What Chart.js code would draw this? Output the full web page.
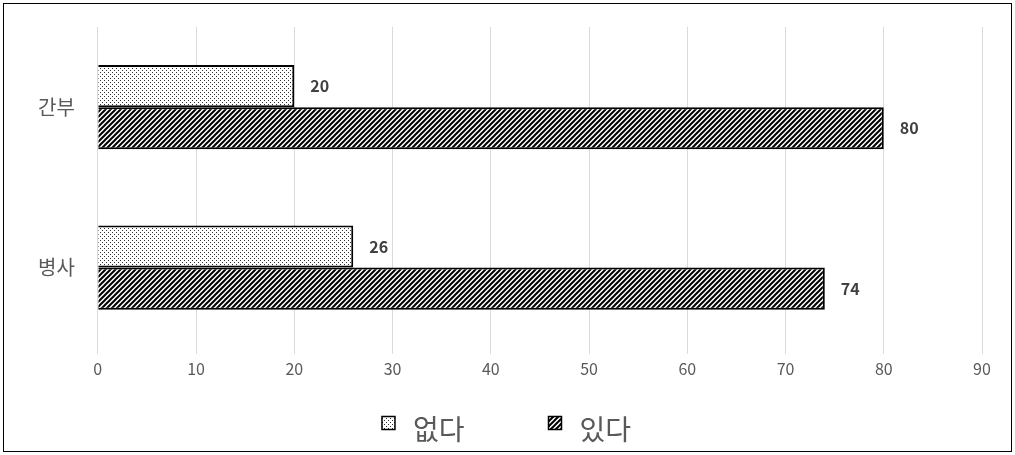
<!DOCTYPE html>
<html>
<head>
<meta charset="utf-8">
<script src="https://cdn.jsdelivr.net/npm/chart.js@4.4.0/dist/chart.umd.min.js"></script>
<style>
    html, body { margin: 0; padding: 0; background: #fff; }
    .frame {
        position: absolute; left: 3px; top: 3px;
        width: 1009px; height: 449px;
        border: 1px solid #000;
        box-sizing: border-box;
    }
    #chart { position: absolute; left: 0; top: 0; }
</style>
</head>
<body>
<div class="frame"></div>
<canvas id="chart" width="1015" height="455"></canvas>
<script>
// 데이터
const categories = ['간부', '병사'];
const seriesNames = ['없다', '있다'];
const noValues = [20, 26];
const yesValues = [80, 74];
const xTicks = [0, 10, 20, 30, 40, 50, 60, 70, 80, 90];

const FONT = "'Malgun Gothic', 'Noto Sans CJK KR', sans-serif";

// 점무늬 패턴
function makeDots() {
    const c = document.createElement('canvas');
    c.width = 4; c.height = 4;
    const g = c.getContext('2d');
    g.fillStyle = '#fff';
    g.fillRect(0, 0, 4, 4);
    g.fillStyle = '#333';
    g.fillRect(0, 0, 1, 1);
    g.fillRect(2, 2, 1, 1);
    return g.createPattern(c, 'repeat');
}

// 빗금 패턴
function makeHatch() {
    const s = 5;
    const c = document.createElement('canvas');
    c.width = s; c.height = s;
    const g = c.getContext('2d');
    g.fillStyle = '#fff';
    g.fillRect(0, 0, s, s);
    g.strokeStyle = '#000';
    g.lineWidth = 2;
    g.beginPath();
    g.moveTo(-1, s + 1); g.lineTo(s + 1, -1);
    g.moveTo(-1, 1); g.lineTo(1, -1);
    g.moveTo(s - 1, s + 1); g.lineTo(s + 1, s - 1);
    g.stroke();
    return g.createPattern(c, 'repeat');
}

const dotFill = makeDots();
const hatchFill = makeHatch();

// 막대 끝 값 표시
const valueLabels = {
    id: 'valueLabels',
    afterDatasetsDraw(chart) {
        const ctx = chart.ctx;
        ctx.save();
        ctx.font = "bold 16px " + FONT;
        ctx.fillStyle = '#404040';
        ctx.textAlign = 'left';
        ctx.textBaseline = 'middle';
        chart.data.datasets.forEach((ds, i) => {
            chart.getDatasetMeta(i).data.forEach((bar, j) => {
                ctx.fillText(ds.data[j], bar.x + 16, bar.y);
            });
        });
        ctx.restore();
    }
};

// 아래쪽 범례 (항목 간격을 넓게)
const bottomLegend = {
    id: 'bottomLegend',
    afterDraw(chart) {
        const ctx = chart.ctx;
        const box = 13, gap = 18, itemGap = 84;
        const y = 429;
        ctx.save();
        ctx.font = "28px " + FONT;
        const items = chart.data.datasets.map(ds => ({
            ds, w: box + gap + ctx.measureText(ds.label).width
        }));
        const total = items.reduce((s, it) => s + it.w, 0) + itemGap * (items.length - 1);
        let x = chart.width / 2 - 1 - total / 2;
        items.forEach(it => {
            ctx.fillStyle = it.ds.backgroundColor;
            ctx.fillRect(x, y - 6 - box / 2, box, box);
            ctx.strokeStyle = '#000';
            ctx.lineWidth = 1.5;
            ctx.strokeRect(x, y - 6 - box / 2, box, box);
            ctx.fillStyle = '#595959';
            ctx.textAlign = 'left';
            ctx.textBaseline = 'middle';
            ctx.fillText(it.ds.label, x + box + gap, y);
            x += it.w + itemGap;
        });
        ctx.restore();
    }
};

new Chart(document.getElementById('chart'), {
    type: 'bar',
    data: {
        labels: categories,
        datasets: [
            {
                label: seriesNames[0],
                data: noValues,
                backgroundColor: dotFill,
                borderColor: '#000',
                borderWidth: 2,
                categoryPercentage: 0.525,
                barPercentage: 1.0
            },
            {
                label: seriesNames[1],
                data: yesValues,
                backgroundColor: hatchFill,
                borderColor: '#000',
                borderWidth: 2,
                categoryPercentage: 0.525,
                barPercentage: 1.0
            }
        ]
    },
    options: {
        indexAxis: 'y',
        responsive: false,
        animation: false,
        layout: { padding: { left: 23, right: 33, top: 23, bottom: 70 } },
        scales: {
            x: {
                min: 0,
                max: 90,
                afterBuildTicks: axis => { axis.ticks = xTicks.map(v => ({ value: v })); },
                grid: { color: '#d9d9d9', drawTicks: true, tickLength: 6 },
                border: { display: false },
                ticks: { color: '#595959', font: { family: FONT, size: 16 }, padding: 6 }
            },
            y: {
                grid: { display: false },
                border: { display: false },
                ticks: { color: '#595959', font: { family: FONT, size: 20 }, padding: 15 }
            }
        },
        plugins: {
            legend: { display: false },
            tooltip: { enabled: false }
        }
    },
    plugins: [valueLabels, bottomLegend]
});
</script>
</body>
</html>
